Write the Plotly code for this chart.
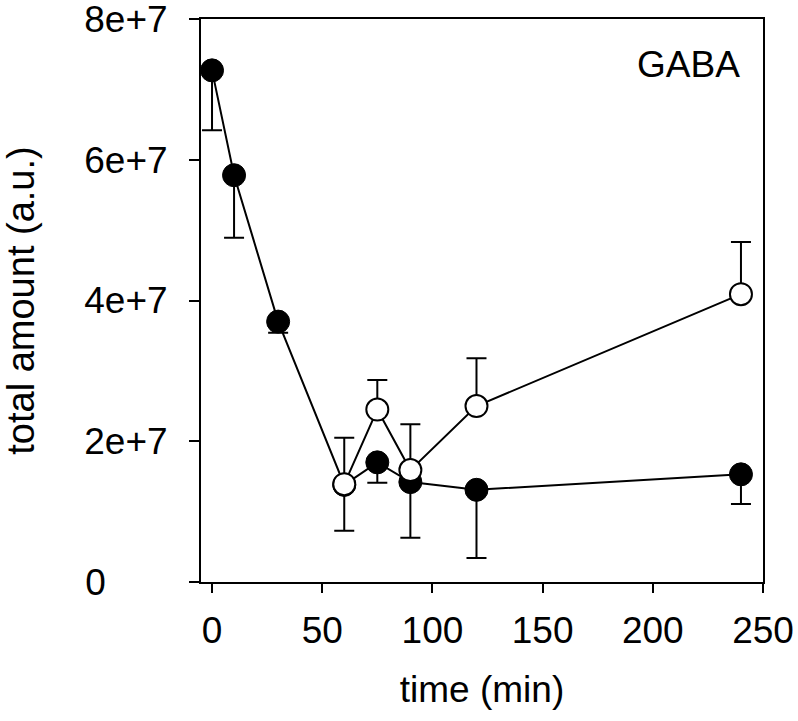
import plotly.graph_objects as go

# Data
time_filled = [0, 10, 30, 60, 75, 90, 120, 240]
amount_filled = [7.27e7, 5.78e7, 3.70e7, 1.38e7, 1.70e7, 1.42e7, 1.31e7, 1.53e7]
err_filled_minus = [0.85e7, 0.89e7, 0.16e7, 0.65e7, 0.29e7, 0.79e7, 0.97e7, 0.42e7]

time_open = [60, 75, 90, 120, 240]
amount_open = [1.39e7, 2.45e7, 1.59e7, 2.50e7, 4.09e7]
err_open_plus = [0.66e7, 0.42e7, 0.65e7, 0.68e7, 0.74e7]

x_ticks = [0, 50, 100, 150, 200, 250]
y_ticks = [0, 2e7, 4e7, 6e7, 8e7]
y_tick_labels = ["0\u2007\u2007\u2007", "2e+7", "4e+7", "6e+7", "8e+7"]

FONT = "Liberation Sans, Arial, sans-serif"

fig = go.Figure()

fig.add_trace(go.Scatter(
    x=time_filled, y=amount_filled, mode="lines+markers",
    line=dict(color="black", width=2),
    marker=dict(size=23, color="black", line=dict(color="black", width=1)),
    error_y=dict(type="data", symmetric=False,
                 array=[0] * len(err_filled_minus), arrayminus=err_filled_minus,
                 color="black", thickness=2, width=10),
    showlegend=False,
))

fig.add_trace(go.Scatter(
    x=time_open, y=amount_open, mode="lines+markers",
    line=dict(color="black", width=2),
    marker=dict(size=22, color="white", line=dict(color="black", width=2)),
    error_y=dict(type="data", symmetric=False,
                 array=err_open_plus, arrayminus=[0] * len(err_open_plus),
                 color="black", thickness=2, width=10),
    showlegend=False,
))

fig.add_annotation(x=0.867, y=0.92, xref="paper", yref="paper",
                   text="GABA", showarrow=False,
                   font=dict(family=FONT, size=37, color="black"),
                   xanchor="center", yanchor="middle")

fig.update_layout(
    width=798, height=721,
    margin=dict(l=201, r=35, t=19, b=139, autoexpand=False),
    paper_bgcolor="white", plot_bgcolor="white",
    font=dict(family=FONT, size=37, color="black"),
)

fig.update_xaxes(
    range=[-5, 250], tickvals=x_ticks, ticks="outside", ticklen=9, tickwidth=2,
    tickcolor="black", showline=True, linecolor="black", linewidth=2, mirror=True,
    showgrid=False, zeroline=False, automargin=False, ticklabeloverflow="allow",
    tickfont=dict(family=FONT, size=37), ticklabelstandoff=6,
    title=dict(text="time (min)", font=dict(family=FONT, size=37), standoff=26),
)
fig.update_yaxes(
    range=[0, 8.00001e7], tickvals=y_ticks, ticktext=y_tick_labels, ticks="outside",
    ticklen=10, tickwidth=2, tickcolor="black", showline=True, linecolor="black",
    linewidth=2, mirror=True, showgrid=False, zeroline=False, automargin=False,
    ticklabeloverflow="allow",
    tickfont=dict(family=FONT, size=37), ticklabelstandoff=14,
    title=dict(text="total amount (a.u.)", font=dict(family=FONT, size=38), standoff=46),
)

fig.write_html("out.html", config={"displayModeBar": False},
               post_script="document.body.style.margin='0';")
